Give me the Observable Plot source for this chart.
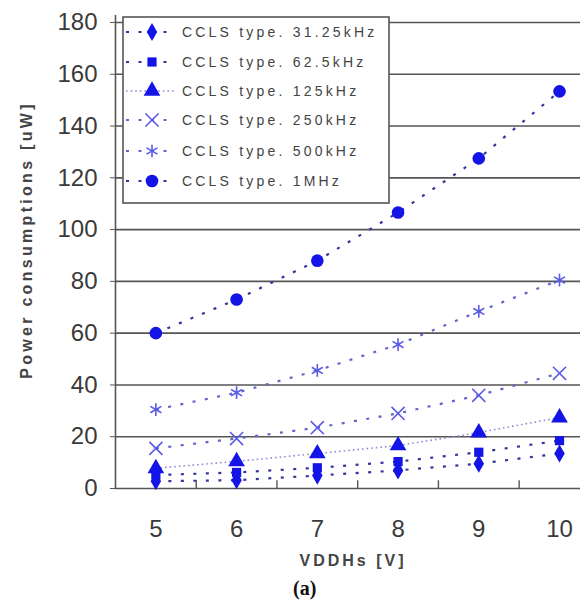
<!DOCTYPE html>
<html>
<head>
<meta charset="utf-8">
<script src="https://cdn.jsdelivr.net/npm/d3@7"></script>
<script src="https://cdn.jsdelivr.net/npm/@observablehq/plot@0.6"></script>
<style>
  html, body { margin: 0; padding: 0; background: #fff; }
  #wrap { position: relative; width: 583px; }
  #cap { font-family: "Liberation Serif", serif; font-weight: bold; font-size: 20px; line-height: 26px; padding-left: 293px; color: #111; }
</style>
</head>
<body>
<div id="wrap"></div>
<div id="cap">(a)</div>
<script>
// ---- data ----
const vddh = [5, 6, 7, 8, 9, 10];
const seriesNames = ["CCLS type. 31.25kHz", "CCLS type. 62.5kHz", "CCLS type. 125kHz", "CCLS type. 250kHz", "CCLS type. 500kHz", "CCLS type. 1MHz"];
const p31k = [2.8, 3.2, 5.0, 7.0, 9.6, 13.5];
const p62k = [5.2, 6.2, 8.0, 10.4, 14.0, 18.5];
const p125k = [7.8, 10.5, 13.5, 16.6, 21.6, 27.4];
const p250k = [15.5, 19.3, 23.5, 29.0, 36.0, 44.5];
const p500k = [30.5, 37.0, 45.6, 55.6, 68.4, 80.5];
const p1M = [60.0, 73.0, 88.0, 106.6, 127.5, 153.4];
const yTicks = [0, 20, 40, 60, 80, 100, 120, 140, 160, 180];
const xTicks = [5, 6, 7, 8, 9, 10];
const xMinorTicks = [5.5, 6.5, 7.5, 8.5, 9.5];

const values = [p31k, p62k, p125k, p250k, p500k, p1M];
const styles = [
  {symbol: "diamond", r: 5.5, fill: "#1414e6", line: "#34349c", dash: "3,9.5", lw: 2.2},
  {symbol: "square", r: 5.2, fill: "#1414e6", line: "#34349c", dash: "3,9.5", lw: 2.2},
  {symbol: "triangle", r: 6.2, fill: "#1414e6", line: "#8c8cd8", dash: "1.6,3", lw: 1.6},
  {symbol: "times", r: 6, stroke: "#5a5ae8", line: "#6464c8", dash: "3,9.5", lw: 2.2},
  {symbol: "asterisk", r: 6, stroke: "#5a5ae8", line: "#6464c8", dash: "3,9.5", lw: 2.2},
  {symbol: "circle", r: 6.3, fill: "#1414e6", line: "#34349c", dash: "3,9.5", lw: 2.2}
];
const table = seriesNames.flatMap((name, i) => vddh.map((x, j) => ({series: name, idx: i, x, y: values[i][j]})));

const marks = [
  Plot.ruleY(yTicks.slice(1), {stroke: "#555", strokeWidth: 1.6}),
  Plot.ruleY([0], {stroke: "#555", strokeWidth: 1.6}),
  Plot.ruleX([4.5], {stroke: "#555", strokeWidth: 1.6}),
  Plot.ruleX(xMinorTicks, {y1: 0, y2: 3, stroke: "#555", strokeWidth: 1.4}),
  Plot.axisX({ticks: xTicks, tickSize: 0, tickPadding: 31, fontSize: 24, fill: "#3a3a3a", label: null, tickFormat: d => String(d)}),
  Plot.axisY({ticks: yTicks, tickSize: 5, tickPadding: 13, fontSize: 24, fill: "#3a3a3a", stroke: "#555", label: null, tickFormat: d => String(d)})
];
seriesNames.forEach((name, i) => {
  const s = styles[i];
  const d = table.filter(r => r.idx === i);
  marks.push(Plot.line(d, {x: "x", y: "y", stroke: s.line, strokeWidth: s.lw, strokeDasharray: s.dash, strokeLinecap: "butt"}));
});
seriesNames.forEach((name, i) => {
  const s = styles[i];
  const d = table.filter(r => r.idx === i);
  if (s.fill) marks.push(Plot.dot(d, {x: "x", y: "y", symbol: () => s.symbol, r: s.r, fill: s.fill, stroke: "none"}));
  else marks.push(Plot.dot(d, {x: "x", y: "y", symbol: () => s.symbol, r: s.r, stroke: s.stroke, strokeWidth: 1.6, fill: "none"}));
});

const chart = Plot.plot({
  width: 583,
  height: 575,
  marginLeft: 115,
  marginRight: 3,
  marginTop: 15,
  marginBottom: 87,
  x: {domain: [4.5, 10.26]},
  y: {domain: [0, 182.7]},
  symbol: {type: "identity"},
  style: {fontFamily: "'Liberation Sans', Arial, sans-serif", background: "#fff"},
  marks
});
document.getElementById("wrap").appendChild(chart);

const svg = d3.select(chart);
// axis titles
svg.append("text")
  .attr("transform", "translate(32,240) rotate(-90)")
  .attr("text-anchor", "middle")
  .style("font-family", "'Liberation Sans', Arial, sans-serif")
  .style("font-size", "16px").style("font-weight", "bold").style("letter-spacing", "3.3px")
  .attr("fill", "#444")
  .text("Power consumptions [uW]");
svg.append("text")
  .attr("x", 353).attr("y", 566)
  .attr("text-anchor", "middle")
  .style("font-family", "'Liberation Sans', Arial, sans-serif")
  .style("font-size", "16px").style("font-weight", "bold").style("letter-spacing", "3px")
  .attr("fill", "#444")
  .text("VDDHs [V]");

// legend
const lg = svg.append("g").attr("transform", "translate(123,17)");
lg.append("rect").attr("width", 266).attr("height", 186).attr("fill", "#fff").attr("stroke", "#555").attr("stroke-width", 1.6);
const rowY = [15, 45, 74, 103, 134, 164];
const symMap = {diamond: d3.symbolDiamond, square: d3.symbolSquare, triangle: d3.symbolTriangle, times: d3.symbolTimes, asterisk: d3.symbolAsterisk, circle: d3.symbolCircle};
seriesNames.forEach((name, i) => {
  const s = styles[i];
  const g = lg.append("g").attr("transform", `translate(0,${rowY[i]})`);
  g.append("line").attr("x1", 3).attr("x2", 52).attr("y1", 0).attr("y2", 0)
    .attr("stroke", s.line).attr("stroke-width", s.lw).attr("stroke-dasharray", s.dash);
  const path = d3.symbol(symMap[s.symbol], Math.PI * s.r * s.r)();
  const p = g.append("path").attr("d", path).attr("transform", "translate(29,0)");
  if (s.fill) p.attr("fill", s.fill); else p.attr("fill", "none").attr("stroke", s.stroke).attr("stroke-width", 1.6);
  g.append("text").attr("x", 59).attr("y", 5)
    .attr("text-anchor", "start")
    .style("font-family", "'Liberation Sans', Arial, sans-serif")
    .style("font-size", "14px").style("letter-spacing", "3.2px")
    .attr("fill", "#444")
    .text(name);
});
</script>
</body>
</html>
